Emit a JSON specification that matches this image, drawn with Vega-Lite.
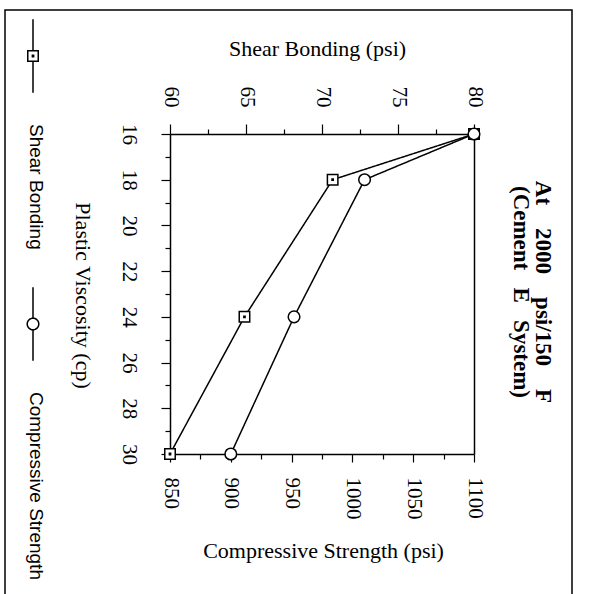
{
  "$schema": "https://vega.github.io/schema/vega-lite/v6.json",
  "width": 567,
  "height": 590,
  "autosize": {"type": "none"},
  "padding": {"left": 5, "top": 10, "right": 17, "bottom": -6},
  "background": "white",
  "title": {
    "text": ["At\u00a0\u00a0\u00a0\u00a02000\u00a0\u00a0\u00a0\u00a0psi/150\u00a0\u00a0\u00a0\u00a0F", "(Cement\u00a0\u00a0\u00a0E\u00a0\u00a0\u00a0System)"],
    "orient": "right",
    "angle": 90,
    "anchor": "middle",
    "frame": "group",
    "baseline": "top",
    "offset": -63,
    "dx": -13,
    "dy": 0,
    "font": "Liberation Serif",
    "fontSize": 23,
    "fontWeight": "bold",
    "lineHeight": 22,
    "color": "black"
  },
  "config": {
    "view": {"stroke": "black", "strokeWidth": 1.5},
    "axis": {
      "domainColor": "black",
      "domainWidth": 1.5,
      "tickColor": "black",
      "tickWidth": 1.2,
      "labelColor": "black",
      "titleColor": "black",
      "labelFont": "Liberation Serif",
      "titleFont": "Liberation Serif",
      "labelFontSize": 21,
      "titleFontSize": 22,
      "titleFontWeight": "normal",
      "grid": false,
      "labelOverlap": false,
      "labelBound": false,
      "labelFlush": false,
      "format": "d"
    }
  },
  "datasets": {
    "mix": [
      {"viscosity": 16, "shear": 80, "compressive": 1100},
      {"viscosity": 18, "shear": 70.7, "compressive": 1010},
      {"viscosity": 24, "shear": 64.9, "compressive": 952},
      {"viscosity": 30, "shear": 60, "compressive": 900}
    ]
  },
  "data": {"name": "mix"},
  "layer": [
    {
      "encoding": {
        "x": {
          "field": "shear",
          "type": "quantitative",
          "scale": {"domain": [60, 80], "range": [165, 469], "nice": false, "zero": false},
          "axis": {
            "orient": "top",
            "offset": -124,
            "values": [60, 62.5, 65, 67.5, 70, 72.5, 75, 77.5, 80],
            "labelExpr": "datum.value % 5 === 0 ? datum.label : ''",
            "labelAngle": 90,
            "labelAlign": "right",
            "labelBaseline": "middle",
            "labelPadding": 17,
            "tickSize": {"condition": {"test": "datum.value % 5 === 0", "value": 10}, "value": 5},
            "title": "Shear Bonding (psi)",
            "titleAngle": 0,
            "titleX": 312,
            "titleY": -86,
            "titleAlign": "center",
            "titleBaseline": "middle"
          }
        },
        "y": {
          "field": "viscosity",
          "type": "quantitative",
          "scale": {"domain": [16, 30], "range": [124, 444], "nice": false, "zero": false},
          "axis": {
            "orient": "left",
            "offset": -165,
            "values": [16, 17, 18, 19, 20, 21, 22, 23, 24, 25, 26, 27, 28, 29, 30],
            "labelExpr": "datum.value % 2 === 0 ? datum.label : ''",
            "labelAngle": 90,
            "labelAlign": "center",
            "labelBaseline": "top",
            "labelPadding": 22,
            "tickSize": {"condition": {"test": "datum.value % 2 === 0", "value": 9}, "value": 5},
            "title": "Plastic Viscosity (cp)",
            "titleAngle": 90,
            "titleX": -88,
            "titleY": 285,
            "titleAlign": "center",
            "titleBaseline": "middle"
          }
        }
      },
      "layer": [
        {
          "mark": {"type": "line", "color": "black", "strokeWidth": 1.5},
          "encoding": {
            "strokeDash": {
              "datum": "Shear Bonding",
              "type": "nominal",
              "scale": {
                "domain": ["Shear Bonding", "Compressive Strength"],
                "range": [[1, 0], [1, 0]]
              },
              "legend": {
                "orient": "none",
                "legendX": 28,
                "legendY": 46,
                "direction": "vertical",
                "title": null,
                "symbolSize": 110,
                "symbolStrokeWidth": 1.5,
                "symbolStrokeColor": "black",
                "symbolFillColor": "white",
                "symbolOpacity": 1,
                "labelFont": "Liberation Sans",
                "labelFontSize": 19,
                "labelColor": "black",
                "labelLimit": 0,
                "rowPadding": 34,
                "padding": 0,
                "encoding": {
                  "symbols": {
                    "shape": {"value": {"expr": "datum.value === 'Shear Bonding' ? 'M0,-7V-1M-1,-1H1V1H-1ZM0,1V7M-0.12,-0.12H0.12V0.12H-0.12Z' : 'M0,-7V-1.1M1.1,0A1.1,1.1,0,1,1,-1.1,0A1.1,1.1,0,1,1,1.1,0ZM0,1.1V7'"}},
                    "x": {"value": 0},
                    "y": {"value": 0},
                    "fill": {"value": "white"},
                    "stroke": {"value": "black"},
                    "strokeWidth": {"value": 1.5}
                  },
                  "labels": {
                    "angle": {"value": 90},
                    "align": {"value": "left"},
                    "baseline": {"value": "middle"},
                    "x": {"value": 3},
                    "y": {"value": 68}
                  }
                }
              }
            }
          }
        },
        {
          "mark": {"type": "point", "shape": "M-1,-1H1V1H-1ZM-0.12,-0.12H0.12V0.12H-0.12Z", "filled": true, "fill": "white", "stroke": "black", "strokeWidth": 1.5, "size": 110, "opacity": 1}
        }
      ]
    },
    {
      "encoding": {
        "x": {
          "field": "compressive",
          "type": "quantitative",
          "scale": {"domain": [850, 1100], "range": [165, 469], "nice": false, "zero": false},
          "axis": {
            "orient": "bottom",
            "offset": -146,
            "values": [850, 875, 900, 925, 950, 975, 1000, 1025, 1050, 1075, 1100],
            "labelExpr": "datum.value % 50 === 0 ? datum.label : ''",
            "labelAngle": 90,
            "labelAlign": "left",
            "labelBaseline": "middle",
            "labelPadding": 15,
            "tickSize": {"condition": {"test": "datum.value % 50 === 0", "value": 8}, "value": 5},
            "title": "Compressive Strength (psi)",
            "titleAngle": 0,
            "titleX": 318,
            "titleY": 96,
            "titleAlign": "center",
            "titleBaseline": "middle"
          }
        },
        "y": {
          "field": "viscosity",
          "type": "quantitative",
          "axis": {"orient": "right", "offset": -98, "labels": false, "ticks": false, "title": null}
        }
      },
      "layer": [
        {
          "mark": {"type": "line", "color": "black", "strokeWidth": 1.5},
          "encoding": {"strokeDash": {"datum": "Compressive Strength", "type": "nominal"}}
        },
        {
          "mark": {"type": "point", "shape": "circle", "filled": true, "fill": "white", "stroke": "black", "strokeWidth": 1.5, "size": 135, "opacity": 1}
        }
      ]
    }
  ],
  "resolve": {
    "scale": {"x": "independent"},
    "axis": {"x": "independent", "y": "independent"}
  }
}
